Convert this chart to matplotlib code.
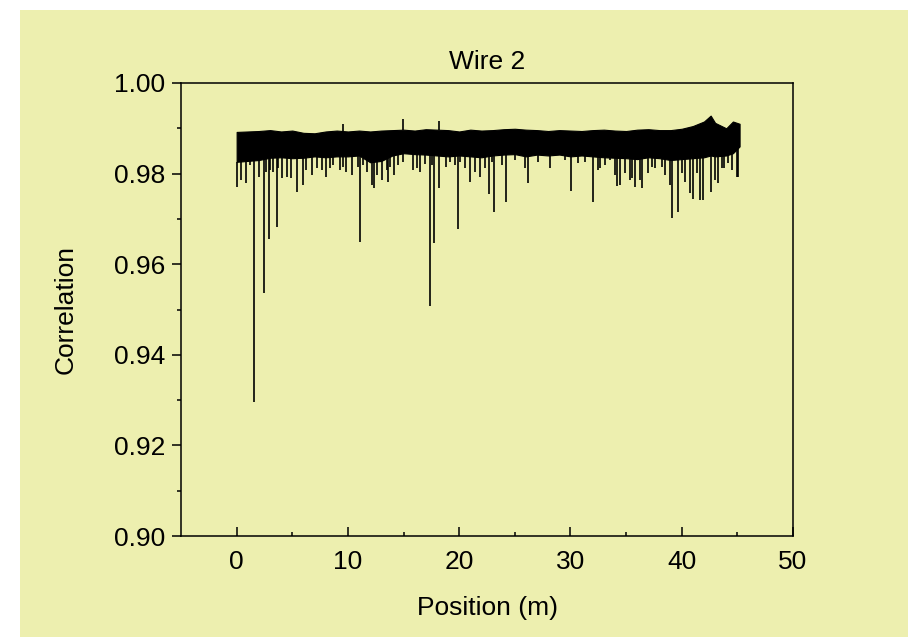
import numpy as np
import matplotlib
matplotlib.use("Agg")
import matplotlib.pyplot as plt
from matplotlib.patches import Rectangle

plt.rcParams['font.family'] = ['Liberation Sans', 'DejaVu Sans']

# envelope of the dense signal band
env_x = [0, 1, 2, 3, 4, 5, 6, 7, 8, 9, 10, 11, 12, 13, 14, 15, 16, 17, 18, 19,
         20, 21, 22, 23, 24, 25, 26, 27, 28, 29, 30, 31, 32, 33, 34, 35, 36, 37,
         38, 39, 40, 41, 42, 42.6, 43, 44, 44.6, 45.2]
env_top = [0.9892, 0.9893, 0.9894, 0.9896, 0.9893, 0.9895, 0.9890, 0.9889, 0.9893,
           0.9895, 0.9893, 0.9895, 0.9893, 0.9895, 0.9896, 0.9897, 0.9895, 0.9898,
           0.9897, 0.9896, 0.9893, 0.9897, 0.9895, 0.9896, 0.9898, 0.9899, 0.9897,
           0.9896, 0.9894, 0.9896, 0.9895, 0.9894, 0.9896, 0.9897, 0.9895, 0.9894,
           0.9897, 0.9898, 0.9896, 0.9896, 0.9899, 0.9905, 0.9915, 0.9928, 0.9912,
           0.9900, 0.9915, 0.9910]
env_bot = [0.9826, 0.9828, 0.9830, 0.9835, 0.9836, 0.9834, 0.9835, 0.9838, 0.9836,
           0.9838, 0.9838, 0.9840, 0.9825, 0.9828, 0.9840, 0.9845, 0.9843, 0.9842,
           0.9840, 0.9838, 0.9840, 0.9838, 0.9836, 0.9840, 0.9842, 0.9843, 0.9838,
           0.9842, 0.9840, 0.9842, 0.9838, 0.9840, 0.9838, 0.9836, 0.9835, 0.9834,
           0.9832, 0.9836, 0.9834, 0.9830, 0.9832, 0.9834, 0.9836, 0.9840, 0.9838,
           0.9840, 0.9845, 0.9860]

# downward dips below the band
dip_x = [0.06, 0.39, 0.81, 1.56, 2.04, 2.43, 2.61, 2.91, 3.63, 4.05, 4.5, 4.92,
         5.4, 5.94, 6.75, 7.25, 8.03, 8.39, 9.29, 9.83, 10.37, 11.09, 11.69,
         12.14, 12.35, 13.04, 13.49, 13.58, 14.17, 15.82, 16.18, 16.48, 17.38,
         17.77, 18.21, 18.82, 19.18, 19.87, 20.97, 21.42, 21.87, 22.68, 23.16,
         23.82, 24.18, 26.22, 28.16, 30.05, 30.71, 32.06, 32.66, 33.11, 34.0,
         34.45, 34.9, 35.35, 35.8, 36.46, 37.0, 37.6, 38.2, 38.95, 39.1, 39.64,
         40.3, 40.75, 41.05, 41.64, 41.94, 42.63, 43.29, 43.83, 44.49, 44.99, 45.06]
dip_y = [0.9771, 0.9786, 0.9779, 0.9296, 0.9793, 0.9537, 0.9804, 0.9656, 0.9682,
         0.9790, 0.9793, 0.9790, 0.9760, 0.9775, 0.9797, 0.9812, 0.9793, 0.9812,
         0.9808, 0.9804, 0.9798, 0.9650, 0.9804, 0.9775, 0.9768, 0.9786, 0.9808,
         0.9782, 0.9797, 0.9808, 0.9812, 0.9804, 0.9508, 0.9647, 0.9768, 0.9815,
         0.9826, 0.9677, 0.9782, 0.9804, 0.9793, 0.9754, 0.9715, 0.9819, 0.9738,
         0.9779, 0.9812, 0.9762, 0.9823, 0.9738, 0.9812, 0.9819, 0.9797, 0.9775,
         0.9801, 0.9786, 0.9771, 0.9768, 0.9801, 0.9812, 0.9815, 0.9775, 0.9703,
         0.9716, 0.9782, 0.9757, 0.9745, 0.9742, 0.9742, 0.9760, 0.9779, 0.9812,
         0.9808, 0.9793, 0.9793]

# shorter dips that make the ragged lower fringe of the band
fringe_x = [1.2, 3.0, 3.3, 3.74, 6.23, 7.64, 8.69, 9.59, 10.94, 11.33, 12.59,
            13.78, 14.53, 14.98, 16.93, 17.53, 19.63, 20.08, 20.53, 22.33, 22.93,
            25.02, 25.92, 27.11, 29.51, 31.31, 32.5, 33.55, 34.15, 35.5, 36.25,
            37.3, 38.5, 40.0, 41.35, 43.0, 43.6, 44.2]
fringe_y = [0.9819, 0.9808, 0.9804, 0.9812, 0.9808, 0.9808, 0.9819, 0.9815,
            0.9815, 0.9819, 0.9797, 0.9815, 0.9819, 0.9826, 0.9822, 0.9819,
            0.9819, 0.9826, 0.9812, 0.9812, 0.9826, 0.9829, 0.9812, 0.9826,
            0.9830, 0.9826, 0.9808, 0.9830, 0.9772, 0.9790, 0.9786, 0.9815,
            0.9797, 0.9801, 0.9801, 0.9786, 0.9812, 0.9823]

# upward peaks above the band
peak_x = [9.56, 14.92, 18.19]
peak_y = [0.9909, 0.9921, 0.9916]

bg = '#EDEFAF'
fig = plt.figure(figsize=(9.08, 6.39), dpi=100, facecolor='white')
fig.add_artist(Rectangle((20 / 908, 2 / 639), 888 / 908, 627 / 639,
                         transform=fig.transFigure, facecolor=bg,
                         edgecolor='none', zorder=-10))
ax = fig.add_axes([181 / 908, 103 / 639, 612 / 908, 453 / 639])
ax.set_facecolor(bg)

ax.fill_between(env_x, env_bot, env_top, color='black', linewidth=0.8)
base = np.interp(dip_x, env_x, env_bot)
ax.vlines(dip_x, dip_y, base, color='black', linewidth=1.2)
base_f = np.interp(fringe_x, env_x, env_bot)
ax.vlines(fringe_x, fringe_y, base_f, color='black', linewidth=1.2)
top = np.interp(peak_x, env_x, env_top)
ax.vlines(peak_x, top, peak_y, color='black', linewidth=1.2)

ax.set_xlim(-5, 50)
ax.set_ylim(0.90, 1.00)
ax.set_xticks([0, 10, 20, 30, 40, 50])
ax.set_xticks([5, 15, 25, 35, 45], minor=True)
ax.set_yticks([0.90, 0.92, 0.94, 0.96, 0.98, 1.00])
ax.set_yticks([0.91, 0.93, 0.95, 0.97, 0.99], minor=True)
ax.yaxis.set_major_formatter(matplotlib.ticker.FormatStrFormatter('%.2f'))

ax.tick_params(axis='x', which='major', direction='in', length=6.5, width=1.1,
               pad=10, labelsize=19)
ax.tick_params(axis='x', which='minor', direction='in', length=3, width=1.1)
ax.tick_params(axis='y', which='major', direction='out', length=6.5, width=1.1,
               pad=5, labelsize=19)
ax.tick_params(axis='y', which='minor', direction='out', length=3, width=1.1)
for s in ax.spines.values():
    s.set_linewidth(1.1)

ax.set_title('Wire 2', fontsize=19, pad=10)
ax.set_xlabel('Position (m)', fontsize=19, labelpad=16)
ax.set_ylabel('Correlation', fontsize=19, labelpad=26)

fig.savefig('out.png', dpi=100, facecolor='white')
